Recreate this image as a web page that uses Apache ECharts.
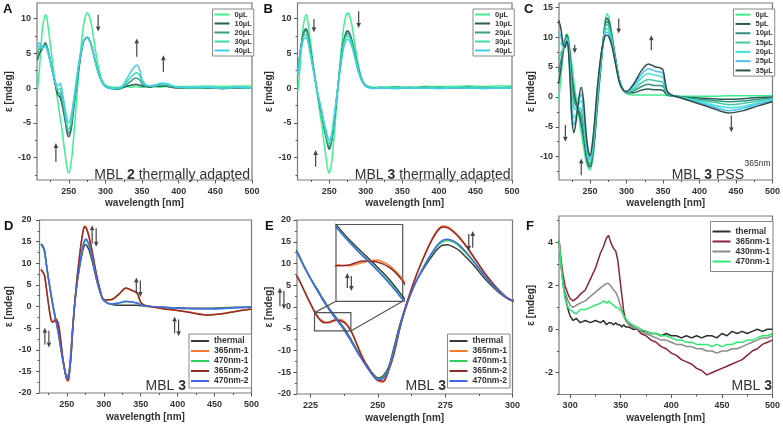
<!DOCTYPE html>
<html><head><meta charset="utf-8"><title>CD spectra MBL</title>
<script src="https://cdn.jsdelivr.net/npm/echarts@6.0.0/dist/echarts.min.js"></script>
<style>html,body{margin:0;padding:0;background:#fff;}#chart{width:783px;height:427px;}</style>
</head><body><div id="chart"></div>
<script>
// ================= DATA =================
// Panel A: MBL 2 thermally adapted
const wlA = [207,210,213,215,218,220,222,225,228,230, 233,235,238,240,243,245,248,250,253,255, 260,265,270,275,280,285,290,295,300,305, 310,315,320,325,330,335,340,343,347,350, 355,360,365,370,375,380,385,390,400,420, 440,460,480,500];
const namesA = ['0µL','10µL','20µL','30µL','40µL'];
const a0  = [-0.5,3.0,7.5,9.3,10.5,10.0,8.5,6.0,3.5,1.8, -0.5,-2.0,-4.2,-5.5,-8.0,-9.6,-11.7,-12.2,-10.8,-9.0, -2.5,4.0,9.0,10.8,9.5,6.3,3.2,1.2,0.4,0.2, 0.1,0.1,0.1,0.1,0.2,0.1,0.2,0.2,0.1,0.1, 0.2,0.1,0.2,0.2,0.1,0.2,0.2,0.1,0.2,0.2, 0.3,0.2,0.3,0.3];
const a10 = [4.0,5.0,5.5,6.0,6.5,6.0,5.2,3.8,2.2,1.2, -0.3,-1.0,-1.3,-2.0,-3.6,-4.8,-6.6,-7.0,-6.0,-4.5, 0.0,3.8,6.6,7.3,6.4,4.3,2.3,0.9,0.2,0.0, -0.1,-0.2,-0.1,0.1,0.3,0.4,0.5,0.5,0.4,0.3, 0.2,0.1,0.2,0.2,0.3,0.3,0.2,0.1,0.0,0.0, 0.0,-0.1,0.0,0.0];
const a20 = [4.8,5.6,5.6,5.9,6.3,5.9,5.1,3.7,2.2,1.3, 0.0,-0.6,-0.8,-1.5,-3.0,-4.3,-6.1,-6.5,-5.5,-4.0, 0.3,4.0,6.7,7.3,6.4,4.3,2.3,0.9,0.2,0.0, -0.1,-0.1,-0.1,0.2,0.6,1.0,1.4,1.4,1.1,0.6, 0.3,0.2,0.3,0.3,0.4,0.4,0.3,0.2,0.1,0.0, 0.0,0.0,0.0,0.0];
const a30 = [5.4,6.0,5.7,5.8,6.1,5.7,5.0,3.6,2.2,1.4, 0.2,-0.2,-0.1,-0.8,-2.4,-3.7,-5.5,-5.9,-4.9,-3.5, 0.6,4.2,6.7,7.2,6.3,4.3,2.3,0.9,0.2,0.0, -0.1,-0.1,0.0,0.4,1.0,1.6,2.1,2.2,1.7,0.9, 0.4,0.3,0.3,0.4,0.5,0.6,0.5,0.3,0.1,0.0, 0.1,0.0,0.1,0.0];
const a40 = [6.0,6.5,5.8,5.8,6.0,5.5,4.8,3.5,2.2,1.5, 0.5,0.3,0.7,0.0,-1.8,-3.0,-4.7,-5.0,-4.0,-2.8, 1.0,4.5,6.8,7.2,6.3,4.3,2.3,0.9,0.2,0.0, -0.1,0.0,0.1,0.6,1.5,2.4,3.1,3.3,2.5,1.2, 0.5,0.3,0.4,0.5,0.7,0.7,0.6,0.4,0.1,0.1, 0.1,0.0,0.1,0.0];

// Panel B: MBL 3 thermally adapted
const wlB = [207,210,213,215,218,220,222,225,228,230, 233,235,238,240,243,245,248,250,253,255, 260,265,270,275,280,285,290,295,300,305, 310,320,340,360,380,400,420,440,460,480, 500];
const namesB = ['0µL','10µL','20µL','30µL','40µL'];
const b0  = [-0.5,3.0,7.5,9.3,10.5,10.0,8.5,6.0,3.5,1.8, -0.5,-2.0,-4.2,-5.5,-8.0,-9.6,-11.7,-12.2,-10.8,-9.0, -2.5,4.0,9.0,10.8,9.5,6.3,3.2,1.2,0.4,0.2, 0.1,0.1,0.2,0.1,0.2,0.2,0.2,0.3,0.2,0.3, 0.3];
const b10 = [2.0,5.0,7.2,8.0,8.5,8.1,7.0,5.0,3.0,1.7, -0.2,-1.4,-3.0,-4.0,-5.8,-6.8,-8.3,-8.8,-7.8,-6.3, -1.6,3.2,6.9,8.2,7.2,5.0,2.6,1.0,0.3,0.1, 0.0,0.0,0.1,0.0,0.1,0.0,0.0,0.1,0.0,0.0, 0.0];
const b20 = [2.0,4.9,7.0,7.8,8.2,7.8,6.8,4.9,2.9,1.7, -0.2,-1.4,-2.9,-3.9,-5.6,-6.6,-8.0,-8.5,-7.5,-6.1, -1.5,3.1,6.7,7.9,7.0,4.9,2.5,1.0,0.3,0.1, 0.0,0.1,0.0,0.1,0.0,0.1,0.0,0.0,0.1,0.0, 0.1];
const b30 = [2.0,4.7,6.6,7.4,7.7,7.3,6.4,4.6,2.8,1.6, -0.2,-1.3,-2.7,-3.7,-5.3,-6.2,-7.6,-8.0,-7.1,-5.7, -1.4,2.9,6.3,7.5,6.6,4.6,2.4,0.9,0.3,0.1, 0.0,0.0,0.1,0.0,0.0,0.0,0.1,0.0,0.0,0.0, 0.0];
const b40 = [2.0,4.5,6.3,7.0,7.2,6.9,6.0,4.3,2.6,1.5, -0.2,-1.2,-2.5,-3.4,-5.0,-5.8,-7.1,-7.5,-6.7,-5.4, -1.3,2.7,5.9,7.0,6.2,4.3,2.2,0.9,0.2,0.0, -0.1,0.0,-0.1,0.0,0.0,-0.1,0.0,0.0,-0.1,0.0, 0.0];

// Panel C: MBL 3 PSS365nm
const wlC = [207,210,213,216,218,220,223,225,228,231, 235,238,241,245,248,250,253,256,260,265, 270,273,276,280,285,290,295,300,310,320, 330,340,345,350,355,360,375,400,420,440, 460,480,500];
const namesC = ['0µL','5µL','10µL','15µL','20µL','25µL','35µL'];
const c0  = [-0.5,3.0,7.0,9.8,10.5,10.0,7.5,5.5,2.5,-0.2, -3.5,-6.0,-8.3,-11.0,-12.0,-12.2,-11.0,-8.0,-2.0,5.0, 12.0,13.9,13.2,10.5,6.5,3.0,1.3,0.6,0.3,0.3, 0.3,0.3,0.3,0.3,0.2,0.2,0.1,0.1,0.1,0.2, 0.2,0.2,0.2];
const c5  = [2.2,4.7,7.4,9.5,10.3,9.7,6.4,3.7,0.8,-1.0, -2.8,-4.5,-6.7,-10.1,-11.5,-11.7,-10.4,-7.3,-1.3,5.4, 11.6,13.2,12.6,10.1,6.3,2.9,1.3,0.7,0.7,1.1, 1.3,1.2,1.2,1.1,0.4,0.2,0.0,-0.2,-0.3,-0.4, -0.3,-0.1,0.0];
const c10 = [4.2,6.0,7.7,9.3,10.1,9.5,5.6,2.4,-0.5,-1.5, -2.3,-3.3,-5.6,-9.4,-11.1,-11.4,-9.9,-6.8,-0.8,5.7, 11.3,12.6,12.1,9.8,6.2,2.8,1.3,0.7,1.0,1.7, 2.1,1.9,1.9,1.8,0.6,0.3,0.0,-0.4,-0.6,-0.8, -0.7,-0.4,-0.2];
const c15 = [6.2,7.3,8.0,9.1,9.9,9.3,4.8,1.0,-1.8,-2.1, -1.8,-2.2,-4.4,-8.8,-10.7,-11.0,-9.5,-6.3,-0.3,6.0, 11.0,12.1,11.6,9.5,6.0,2.8,1.3,0.8,1.3,2.3, 2.9,2.7,2.6,2.4,0.7,0.3,-0.1,-0.6,-0.9,-1.3, -1.1,-0.7,-0.3];
const c20 = [8.8,9.0,8.4,8.8,9.7,9.0,3.7,-0.8,-3.5,-2.9, -1.1,-0.7,-2.8,-7.9,-10.1,-10.5,-8.9,-5.6,0.5,6.4, 10.6,11.4,11.0,9.1,5.8,2.7,1.2,0.8,1.6,3.1, 3.9,3.6,3.5,3.2,0.9,0.3,-0.1,-0.8,-1.4,-1.8, -1.6,-1.0,-0.5];
const c25 = [10.8,10.2,8.7,8.5,9.5,8.7,2.8,-2.2,-4.7,-3.4, -0.5,0.5,-1.7,-7.2,-9.7,-10.2,-8.5,-5.0,1.0,6.7, 10.3,10.8,10.5,8.8,5.7,2.6,1.2,0.9,1.9,3.7, 4.7,4.3,4.2,3.9,1.1,0.4,-0.2,-1.0,-1.7,-2.3, -1.9,-1.2,-0.7];
const c35 = [12.8,11.5,9.0,8.3,9.3,8.5,2.0,-3.5,-6.0,-4.0, 0.0,1.6,-0.5,-6.5,-9.3,-9.8,-8.0,-4.5,1.5,7.0, 10.0,10.3,10.0,8.5,5.5,2.5,1.2,0.9,2.2,4.3, 5.5,5.0,4.9,4.5,1.2,0.4,-0.2,-1.2,-2.0,-2.7, -2.3,-1.5,-0.8];

// Panels D and E (same spectra, E is a zoom): MBL 3 switching
const wlD = [215,218,220,222,224,226,228,230,232,234, 236,238,240,242,244,246,248,250,252,254, 256,258,260,262,264,266,268,270,272,274, 276,278,280,283,286,290,295,300,310,320, 330,340,345,350,355,360,380,400,420,440, 460,480,500];
const namesD = ['thermal','365nm-1','470nm-1','365nm-2','470nm-2'];
const dT    = [14.5,13.9,12.8,10.2,7.8,5.6,3.6,1.5,-0.4,-2.0, -3.6,-5.3,-7.4,-9.6,-11.6,-13.4,-15.2,-16.3,-15.8,-13.8, -9.3,-4.5,-0.5,2.8,5.6,7.8,9.8,11.6,13.2,14.2, 14.3,13.8,13.1,11.3,9.3,6.3,3.3,1.4,0.5,0.3, 0.3,0.3,0.3,0.2,0.1,0.0,-0.2,-0.3,-0.4,-0.4, -0.3,-0.2,-0.1];
const d365a = [8.7,7.9,7.1,4.7,2.1,-0.4,-2.4,-3.4,-3.6,-3.2, -2.9,-3.6,-5.3,-8.1,-11.0,-13.5,-15.6,-17.0,-17.3,-14.8, -10.9,-5.5,-0.7,3.2,6.9,10.0,12.9,15.5,17.6,18.6, 18.4,17.5,16.3,13.9,11.2,7.6,3.9,1.6,1.5,2.7, 4.2,3.5,3.1,0.9,0.3,0.1,-0.5,-0.9,-1.4,-1.9, -1.7,-1.1,-0.6];
const d470a = [14.4,13.7,12.6,10.1,7.7,5.5,3.4,1.3,-0.6,-2.3, -3.9,-5.6,-7.7,-9.8,-11.8,-13.7,-15.4,-16.5,-16.1,-14.2, -9.9,-5.0,-0.8,2.7,5.6,8.0,10.2,12.1,13.9,15.0, 15.3,14.9,14.1,12.2,10.0,6.8,3.5,1.5,0.6,0.8, 1.1,1.0,0.8,0.4,0.2,0.1,-0.2,-0.4,-0.5,-0.5, -0.4,-0.3,-0.2];
const d365b = [8.5,7.8,7.0,4.6,2.0,-0.5,-2.6,-3.6,-3.5,-3.0, -3.1,-3.8,-5.5,-8.3,-11.3,-13.6,-15.5,-16.8,-17.0,-14.5, -10.7,-5.3,-0.6,3.3,6.8,9.9,12.7,15.3,17.3,18.4, 18.2,17.3,16.1,13.8,11.1,7.5,3.8,1.5,1.6,2.8, 4.3,3.6,3.2,1.0,0.3,0.1,-0.5,-0.9,-1.5,-2.0, -1.7,-1.1,-0.6];
const d470b = [14.3,13.6,12.5,10.0,7.6,5.4,3.3,1.2,-0.7,-2.4, -4.0,-5.8,-7.8,-10.0,-12.0,-13.9,-15.6,-16.7,-16.4,-14.5, -10.2,-5.2,-1.0,2.6,5.6,8.0,10.4,12.4,14.2,15.3, 15.6,15.2,14.4,12.5,10.2,6.9,3.6,1.5,0.6,0.8, 1.2,1.0,0.8,0.4,0.2,0.1,-0.2,-0.4,-0.5,-0.6, -0.5,-0.3,-0.2];

// Panel F
const wlF = [289,291,293,295,298,300,303,306,310,315, 320,325,330,333,336,338,340,343,345,347, 349,351,353,355,358,362,366,370,375,380, 385,390,395,400,405,410,415,420,425,430, 435,440,445,450,455,460,465,470,475,480, 485,490,495,500];
const namesF = ['thermal','365nm-1','430nm-1','470nm-1'];
const fT   = [4.1,3.0,2.1,1.5,0.9,0.6,0.4,0.5,0.3,0.4, 0.3,0.4,0.3,0.4,0.2,0.3,0.3,0.2,0.3,0.2, 0.2,0.1,0.2,0.1,0.1,0.0,0.0,-0.1,-0.1,-0.2, -0.2,-0.3,-0.2,-0.3,-0.3,-0.4,-0.3,-0.4,-0.3,-0.4, -0.3,-0.3,-0.4,-0.2,-0.3,-0.1,-0.2,-0.1,-0.2,-0.1, 0.0,-0.1,0.0,0.0];
const f365 = [4.1,3.2,2.5,2.0,1.6,1.4,1.3,1.4,1.6,1.8, 2.3,2.8,3.5,3.8,4.2,4.3,4.0,3.7,3.6,3.2, 2.4,1.6,0.8,0.4,0.3,0.1,0.0,-0.2,-0.3,-0.5, -0.6,-0.8,-0.9,-1.1,-1.2,-1.4,-1.5,-1.6,-1.8,-1.9, -2.1,-2.0,-1.9,-1.8,-1.7,-1.6,-1.5,-1.4,-1.2,-1.0, -0.9,-0.7,-0.6,-0.5];
const f430 = [4.1,3.0,2.2,1.7,1.3,1.1,1.0,1.1,1.2,1.3, 1.5,1.7,1.9,2.0,2.1,2.1,2.0,1.8,1.7,1.5, 1.2,0.9,0.6,0.4,0.2,0.1,0.0,-0.1,-0.2,-0.3, -0.4,-0.5,-0.5,-0.6,-0.7,-0.7,-0.8,-0.8,-0.9,-0.9, -1.0,-1.0,-1.1,-1.0,-1.0,-0.9,-0.9,-0.8,-0.7,-0.6, -0.5,-0.4,-0.4,-0.3];
const f470 = [4.1,2.9,2.0,1.4,1.0,0.9,0.8,0.7,0.9,0.9, 1.0,1.1,1.2,1.3,1.2,1.3,1.2,1.1,1.0,1.0, 0.9,0.8,0.6,0.5,0.3,0.2,0.1,0.0,-0.1,-0.2, -0.2,-0.3,-0.3,-0.4,-0.5,-0.5,-0.6,-0.6,-0.7,-0.7, -0.7,-0.8,-0.7,-0.8,-0.7,-0.7,-0.6,-0.6,-0.5,-0.5, -0.4,-0.3,-0.3,-0.2];

// Tick labels
const xTicksABC = [250,300,350,400,450,500];
const xMinorABC = [225,275,325,375,425,475];
const yTicksAB  = [-10,-5,0,5,10];
const yMinorAB  = [-12.5,-7.5,-2.5,2.5,7.5];
const yTicksC   = [-10,-5,0,5,10,15];
const yMinorC   = [-12.5,-7.5,-2.5,2.5,7.5,12.5];
const xTicksD   = [250,300,350,400,450,500];
const xMinorD   = [225,275,325,375,425,475];
const yTicksDE  = [-20,-15,-10,-5,0,5,10,15,20];
const yMinorDE  = [-17.5,-12.5,-7.5,-2.5,2.5,7.5,12.5,17.5];
const xTicksE   = [225,250,275,300];
const xMinorE   = [237.5,262.5,287.5];
const xTicksF   = [300,350,400,450,500];
const xMinorF   = [325,375,425,475];
const yTicksF   = [-2,0,2,4];
const yMinorF   = [-3,-1,1,3,5];

// ================= STYLE / LAYOUT =================
const FONT = '"Liberation Sans", Arial, Helvetica, sans-serif';
const TXT = '#333';
const colAB = ['#3df08e','#2b5d57','#3a9c86','#3fdcaa','#43cdea'];
const colC  = ['#3deb8f','#2b5d57','#368f80','#42c8a2','#40e0d6','#4bc2f0','#2f4f4c'];
const colD  = ['#3a3a3a','#ff7a2e','#30d060','#8e2b2b','#4466ee'];
const colF  = ['#2e2e2e','#8b2439','#8a8a8a','#2ee870'];

const grids = [
  {left:37,   top:3,   width:215,   height:177},
  {left:297.5,top:3,   width:214.5, height:177},
  {left:559,  top:3,   width:214.5, height:177},
  {left:39.5, top:220, width:212,   height:173},
  {left:297,  top:220, width:215.5, height:174},
  {left:559,  top:216, width:214.5, height:178.5},
  {left:336,  top:224.5, width:66.7, height:76.8}
];
const axesCfg = [
  {x:[206.5,500], y:[-13.2,12.2], xt:xTicksABC, xm:xMinorABC, yt:yTicksAB, ym:yMinorAB, xGap:18, yGap:22, yMargin:6},
  {x:[206.5,500], y:[-13.2,12.2], xt:xTicksABC, xm:xMinorABC, yt:yTicksAB, ym:yMinorAB, xGap:18, yGap:22.5, yMargin:6},
  {x:[207.5,500], y:[-13.9,15.7], xt:xTicksABC, xm:xMinorABC, yt:yTicksC,  ym:yMinorC,  xGap:18, yGap:23, yMargin:6},
  {x:[213,500],   y:[-20,20],     xt:xTicksD,   xm:xMinorD,   yt:yTicksDE, ym:yMinorDE, xGap:19, yGap:25, yMargin:8},
  {x:[220,300],   y:[-20,20],     xt:xTicksE,   xm:xMinorE,   yt:yTicksDE, ym:yMinorDE, xGap:19, yGap:22, yMargin:6},
  {x:[289,500],   y:[-3,5.2],     xt:xTicksF,   xm:xMinorF,   yt:yTicksF,  ym:yMinorF,  xGap:18.5, yGap:23, yMargin:6}
];

const xAxis = [], yAxis = [];
axesCfg.forEach((c, i) => {
  const lab = {fontFamily:FONT, fontWeight:'bold', fontSize:9, color:TXT};
  xAxis.push({type:'value', gridIndex:i, min:c.x[0], max:c.x[1], position:'bottom',
    name:'wavelength [nm]', nameLocation:'middle', nameGap:c.xGap,
    nameTextStyle:{fontFamily:FONT, fontWeight:'bold', fontSize:10, color:TXT},
    axisLine:{show:false, onZero:false},
    axisTick:{show:true, customValues:c.xt, length:3.5, lineStyle:{color:'#555', width:1}},
    axisLabel:Object.assign({show:true, customValues:c.xt, margin:7}, lab),
    splitLine:{show:false}});
  xAxis.push({type:'value', gridIndex:i, min:c.x[0], max:c.x[1], position:'bottom',
    axisLine:{show:false, onZero:false},
    axisTick:{show:true, customValues:c.xm, length:2, lineStyle:{color:'#555', width:1}},
    axisLabel:{show:false}, splitLine:{show:false}});
  yAxis.push({type:'value', gridIndex:i, min:c.y[0], max:c.y[1], position:'left',
    name:'ε [mdeg]', nameLocation:'middle', nameGap:c.yGap,
    nameTextStyle:{fontFamily:FONT, fontWeight:'bold', fontSize:10, color:TXT},
    axisLine:{show:false, onZero:false},
    axisTick:{show:true, customValues:c.yt, length:3.5, lineStyle:{color:'#555', width:1}},
    axisLabel:Object.assign({show:true, customValues:c.yt, margin:c.yMargin}, lab),
    splitLine:{show:false}});
  yAxis.push({type:'value', gridIndex:i, min:c.y[0], max:c.y[1], position:'left',
    axisLine:{show:false, onZero:false},
    axisTick:{show:true, customValues:c.ym, length:2, lineStyle:{color:'#555', width:1}},
    axisLabel:{show:false}, splitLine:{show:false}});
});
// inset axes (index 12)
xAxis.push({type:'value', gridIndex:6, min:230, max:240, show:false});
yAxis.push({type:'value', gridIndex:6, min:-8, max:1.5, show:false});

const panels = [
  {tag:'A', wl:wlA, names:namesA, vals:[a0,a10,a20,a30,a40], cols:colAB, smooth:0.3},
  {tag:'B', wl:wlB, names:namesB, vals:[b0,b10,b20,b30,b40], cols:colAB, smooth:0.3},
  {tag:'C', wl:wlC, names:namesC, vals:[c0,c5,c10,c15,c20,c25,c35], cols:colC, smooth:0.3},
  {tag:'D', wl:wlD, names:namesD, vals:[dT,d365a,d470a,d365b,d470b], cols:colD, smooth:0.3},
  {tag:'E', wl:wlD, names:namesD, vals:[dT,d365a,d470a,d365b,d470b], cols:colD, smooth:0.3},
  {tag:'F', wl:wlF, names:namesF, vals:[fT,f365,f430,f470], cols:colF, smooth:false}
];

const series = [];
panels.forEach((p, i) => {
  p.names.forEach((n, k) => {
    series.push({type:'line', name:n + '|' + p.tag, xAxisIndex:2*i, yAxisIndex:2*i,
      data:p.wl.map((w, j) => [w, p.vals[k][j]]), showSymbol:false, symbol:'none',
      smooth:p.smooth, clip:true, lineStyle:{color:p.cols[k], width:1.5}, itemStyle:{color:p.cols[k]},
      emphasis:{disabled:true}, z:2});
  });
});
// inset of E
namesD.forEach((n, k) => {
  series.push({type:'line', name:n + '|I', xAxisIndex:12, yAxisIndex:12,
    data:wlD.map((w, j) => [w, panels[4].vals[k][j]]), showSymbol:false, symbol:'none',
    smooth:0.3, clip:true, lineStyle:{color:colD[k], width:1.5}, emphasis:{disabled:true}, z:6});
});

function legend(p, left, top, fs, iw, lh, pad) {
  return {orient:'vertical', left, top, itemWidth:iw, itemHeight:2, itemGap:0, icon:'rect',
    padding:pad, borderColor:'#888', borderWidth:1, backgroundColor:'#fff', selectedMode:false,
    textStyle:{fontFamily:FONT, fontWeight:'bold', fontSize:fs, color:TXT, lineHeight:lh},
    data:p.names.map(n => n + '|' + p.tag), formatter:n => n.split('|')[0], z:8};
}
const legends = [
  legend(panels[0], 212.5, 9, 7.5, 15, 9, [1,2,1,2]),
  legend(panels[1], 473, 9, 7.5, 15, 9, [1,2,1,2]),
  legend(panels[2], 733.5, 9, 7.5, 15, 9.3, [1,2,1,2]),
  legend(panels[3], 189, 334, 8.5, 18, 10, [2,3,2,2]),
  legend(panels[4], 447.5, 334, 8.5, 18, 10, [2,3,2,2]),
  legend(panels[5], 710.5, 221.5, 8.5, 18, 10, [5,3,5,2])
];

const chart = echarts.init(document.getElementById('chart'), null, {renderer:'canvas'});
chart.setOption({
  animation:false,
  backgroundColor:'#fff',
  grid: grids.map((g, i) => Object.assign({show: i < 6, borderColor:'#7a7a7a', borderWidth:1.2, backgroundColor:'transparent'}, g)),
  xAxis, yAxis, legend:legends, series
});

// ================= ANNOTATIONS =================
const px = (g, x, y) => chart.convertToPixel({gridIndex:g}, [x, y]);
const AC = '#444';
function arrowEls(t, h) {
  const dx = h[0]-t[0], dy = h[1]-t[1], L = Math.hypot(dx, dy), ux = dx/L, uy = dy/L;
  const hl = 5, hw = 2.3, bx = h[0]-ux*hl, by = h[1]-uy*hl;
  return [
    {type:'line', z:10, shape:{x1:t[0], y1:t[1], x2:bx, y2:by}, style:{stroke:AC, lineWidth:1.2}},
    {type:'polygon', z:10, shape:{points:[[h[0],h[1]],[bx-uy*hw, by+ux*hw],[bx+uy*hw, by-ux*hw]]}, style:{fill:AC}}
  ];
}
const arrows = [
  [0, 290, 10.5, 8.1], [0, 342.7, 4.5, 7.1], [0, 379, 2.3, 4.7], [0, 232.3, -10.6, -7.9],
  [1, 229, 9.9, 8.0], [1, 290.2, 11, 8.6], [1, 231.3, -11.3, -8.9],
  [2, 229, 8.7, 7.3], [2, 216.2, -4.7, -7.5], [2, 238, -13.1, -10.3], [2, 289.3, 13.1, 10.6], [2, 334, 7.8, 10.3], [2, 443.6, -3.1, -5.9]
];
const dbl = [
  [3, 287, 18.8, 14.5, true], [3, 346.8, 6.7, 2.9, true], [3, 398.6, -2.3, -6.2, true], [3, 223, -4.9, -8.8, true],
  [4, 284.5, 17.5, 13.6, false], [4, 214.4, 4.4, 0.2, true], [6, 232, -4.5, -6.35, true]
];
const G = [];
arrows.forEach(a => { G.push(...arrowEls(px(a[0], a[1], a[2]), px(a[0], a[1], a[3]))); });
dbl.forEach(a => {
  const t = px(a[0], a[1], a[2]), b = px(a[0], a[1], a[3]);
  const lx = t[0]-2, rx = t[0]+2;
  if (a[4]) {
    G.push(...arrowEls([lx, b[1]], [lx, t[1]]));
    G.push(...arrowEls([rx, t[1]+3], [rx, b[1]+3]));
  } else {
    G.push(...arrowEls([lx, t[1]+3], [lx, b[1]+3]));
    G.push(...arrowEls([rx, b[1]], [rx, t[1]]));
  }
});
// E inset: box, connectors, background
const ig = grids[6];
const b1 = px(4, 226.5, -1.3), b2 = px(4, 240, -5.5);
G.push({type:'rect', z:5, shape:{x:b1[0], y:b1[1], width:b2[0]-b1[0], height:b2[1]-b1[1]}, style:{fill:'none', stroke:'#555', lineWidth:1.2}});
G.push({type:'line', z:5, shape:{x1:b1[0], y1:b1[1], x2:ig.left, y2:ig.top+ig.height}, style:{stroke:'#555', lineWidth:1.2}});
G.push({type:'line', z:5, shape:{x1:b2[0], y1:b2[1], x2:ig.left+ig.width, y2:ig.top+ig.height}, style:{stroke:'#555', lineWidth:1.2}});
G.push({type:'rect', z:5, shape:{x:ig.left, y:ig.top, width:ig.width, height:ig.height}, style:{fill:'#fff', stroke:'#555', lineWidth:1.2}});

// texts
const rich = {n:{fontFamily:FONT, fontSize:14, fill:'#333'}, b:{fontFamily:FONT, fontSize:14, fontWeight:'bold', fill:'#333'}};
function txt(x, y, s) { return {type:'text', z:10, style:{x, y, align:'right', verticalAlign:'bottom', text:s, rich}}; }
G.push(txt(250, 182, '{n|MBL }{b|2}{n| thermally adapted}'));
G.push(txt(510.5, 182, '{n|MBL }{b|3}{n| thermally adapted}'));
G.push(txt(744, 182, '{n|MBL }{b|3}{n| PSS}'));
G.push({type:'text', z:10, style:{x:744.5, y:159, align:'left', verticalAlign:'top', text:'365nm', fontFamily:FONT, fontSize:8.5, fill:'#333'}});
G.push(txt(186, 393, '{n|MBL }{b|3}'));
G.push(txt(446, 393, '{n|MBL }{b|3}'));
G.push(txt(772, 393, '{n|MBL }{b|3}'));
// panel letters
[['A',3,3],['B',263.5,3],['C',524,3],['D',4,220],['E',265,220],['F',526,220]].forEach(l => {
  G.push({type:'text', z:10, style:{x:l[1], y:l[2], text:l[0], fontFamily:FONT, fontSize:13, fontWeight:'bold', fill:'#111', verticalAlign:'top'}});
});
chart.setOption({graphic: G});
</script></body></html>
